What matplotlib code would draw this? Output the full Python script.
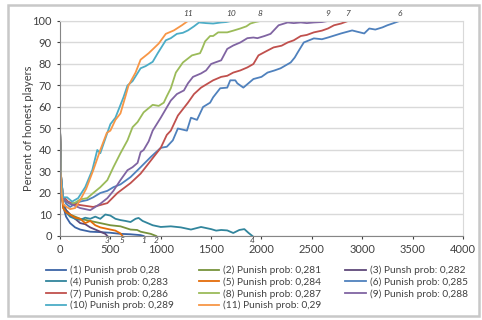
import matplotlib
matplotlib.use("Agg")
import matplotlib.pyplot as plt
from matplotlib.patches import Rectangle

plt.rcParams['font.family'] = ['Lato', 'DejaVu Sans']

# simulation runs: step number vs percent of honest players
x1 = [0, 10, 30, 60, 100, 150, 200, 300, 400, 500, 600, 700, 800, 830]
y1 = [50, 25, 14, 9, 6, 4, 3, 2, 1.8, 1.5, 1.0, 0.8, 0.4, 0]

x2 = [0, 10, 30, 60, 100, 200, 300, 400, 500, 600, 700, 766, 800, 900, 955]
y2 = [50, 25, 15, 12, 10, 8, 7, 6, 5, 4.5, 3, 2.8, 2, 1, 0]

x3 = [0, 10, 30, 60, 100, 150, 200, 250, 300, 350, 400, 450, 470]
y3 = [50, 25, 15, 12, 10, 8, 6, 5.5, 4, 3, 2, 1, 0]

x4 = [0, 10, 30, 60, 100, 150, 200, 250, 300, 350, 400, 450, 500, 550, 600, 650,
      700, 750, 780, 820, 870, 920, 1000, 1100, 1200, 1300, 1400, 1500, 1550,
      1600, 1660, 1720, 1780, 1830, 1870, 1910]
y4 = [50, 25, 14, 11, 9, 8, 7.5, 8.5, 8, 9, 8, 10, 9.5, 8, 7.4, 7,
      6.5, 8, 8.4, 7, 6, 5, 4.2, 4.5, 4, 3, 4.2, 3.2, 2.5,
      2.8, 2.6, 1.4, 2.8, 3.2, 1.5, 0]

x5 = [0, 10, 30, 60, 100, 150, 200, 250, 300, 350, 400, 450, 500, 550, 600, 620]
y5 = [50, 25, 13, 11, 10, 8.5, 8, 6, 7, 5, 4, 3.5, 3, 2.5, 1.2, 0]

x6 = [0, 10, 30, 60, 100, 150, 200, 270, 330, 400, 470, 530, 600, 700, 800, 900,
      1000, 1060, 1120, 1170, 1260, 1300, 1360, 1420, 1490, 1520, 1590, 1660,
      1690, 1740, 1760, 1820, 1870, 1920, 2000, 2060, 2130, 2190, 2290, 2330,
      2360, 2420, 2520, 2600, 2660, 2790, 2900, 2950, 3020, 3070, 3130, 3200,
      3250, 3300, 3370]
y6 = [50, 28, 18, 15, 13.5, 15, 16, 16.7, 18, 20, 21, 22.7, 24, 27.4, 32, 36.7,
      41, 41.5, 44.5, 50, 49, 55, 54, 60, 62, 64.5, 68.7, 69,
      72.4, 72.4, 71, 69, 71, 73, 74, 76, 77, 78, 80.7, 83,
      85.4, 90, 91.9, 91.5, 92.3, 94.2, 95.6, 95, 94.2, 96.5, 96, 97,
      98, 98.8, 100]

x7 = [0, 10, 30, 50, 80, 130, 200, 330, 470, 570, 700, 800, 900, 1000, 1060,
      1100, 1170, 1270, 1330, 1400, 1520, 1600, 1660, 1720, 1790, 1860, 1920,
      1970, 2050, 2120, 2200, 2260, 2320, 2390, 2450, 2520, 2600, 2660, 2720,
      2790, 2860]
y7 = [50, 28, 18, 17.5, 16, 15, 14.4, 13.5, 15.3, 20, 24.6, 29, 35, 41, 47,
      49, 56, 62, 66, 69, 72.4, 74, 74.5, 76, 77, 78.4, 80,
      84, 86, 87.7, 88.5, 90, 91, 93, 93.5, 94.7, 95.5, 96.5, 98,
      98.8, 100]

x8 = [0, 10, 30, 60, 100, 150, 200, 270, 330, 400, 470, 530, 600, 670, 720, 770,
      830, 920, 980, 1030, 1060, 1100, 1150, 1220, 1310, 1390, 1410, 1440, 1490,
      1520, 1570, 1660, 1720, 1790, 1850, 1890, 1940, 1990]
y8 = [50, 28, 18, 16, 15, 15.5, 17, 17.6, 20, 22.7, 26, 32, 38.5, 44.5, 50.6, 53,
      57.5, 61, 60.5, 62, 65, 68.7, 76, 80.7, 84, 85, 87, 90.5, 93,
      93, 94.7, 94.7, 95.5, 96.5, 97.5, 98.8, 99.5, 100]

x9 = [0, 10, 30, 60, 100, 200, 300, 400, 470, 530, 600, 670, 720, 770, 800, 830,
      880, 920, 1000, 1050, 1100, 1160, 1230, 1270, 1320, 1400, 1450, 1500, 1540,
      1600, 1660, 1720, 1790, 1860, 1920, 1960, 2030, 2090, 2130, 2170, 2260,
      2320, 2390, 2450, 2520, 2600, 2660]
y9 = [50, 28, 18, 16, 15, 13, 12, 15, 17.6, 21, 26, 30.6, 32, 34, 39, 40,
      44, 49, 55, 59, 63, 66, 67.7, 71, 74, 75.6, 77, 80, 80.7,
      81.7, 87, 88.6, 90, 92, 92.3, 92, 93, 94, 96, 98, 99.3,
      99, 99.3, 99, 99.3, 99.5, 100]

x10 = [0, 10, 30, 70, 120, 180, 250, 320, 370, 400, 470, 500, 550, 630, 670, 720,
       800, 850, 920, 970, 1050, 1100, 1160, 1220, 1270, 1330, 1380, 1450, 1520,
       1600, 1650, 1700]
y10 = [50, 28, 18, 18, 16, 17.6, 22.7, 30.6, 40, 38.5, 48, 52, 55, 64.5, 70, 72,
       78, 79, 81, 85, 91, 92, 94, 94.5, 95.6, 97.5, 99.3, 99, 98.8,
       99.3, 99.5, 100]

x11 = [0, 5, 15, 30, 50, 100, 150, 200, 260, 330, 400, 465, 500, 550, 600, 650,
       680, 750, 800, 880, 980, 1050, 1130, 1210, 1270]
y11 = [51, 30, 20, 15, 14, 12.5, 13, 16.7, 22, 30.6, 40, 48, 49, 54, 57, 65,
       70, 76, 82, 85, 89.5, 94, 95.6, 98, 100]

labels = ['(1) Punish prob 0,28', '(2) Punish prob: 0,281', '(3) Punsh prob: 0,282',
          '(4) Punish prob: 0,283', '(5) Punish prob: 0,284', '(6) Punish prob: 0,285',
          '(7) Punish prob: 0,286', '(8) Punish prob: 0,287', '(9) Punish prob: 0,288',
          '(10) Punish prob: 0,289', '(11) Punish prob: 0,29']
colors = ['#3C64A6', '#77933C', '#5F497A', '#31859C', '#E46C0A', '#4F81BD',
          '#C0504D', '#9BBB59', '#8064A2', '#4BACC6', '#F79646']

xs = [x1, x2, x3, x4, x5, x6, x7, x8, x9, x10, x11]
ys = [y1, y2, y3, y4, y5, y6, y7, y8, y9, y10, y11]

fig = plt.figure(figsize=(4.82, 3.20), dpi=100)
ax = fig.add_axes([0.1245, 0.2625, 0.836, 0.672])

handles = []
for i in range(11):
    h, = ax.plot(xs[i], ys[i], color=colors[i], lw=1.3, label=labels[i])
    handles.append(h)
    # run number written where the run ends
    end_x, end_y = xs[i][-1], ys[i][-1]
    dy = 3 if end_y >= 100 else -1
    ax.annotate(str(i + 1), (end_x, end_y), xytext=(0, dy), textcoords='offset points',
                ha='center', va='bottom' if dy > 0 else 'top', fontsize=6,
                style='italic', color='#404040', annotation_clip=False)

ax.set_xlim(0, 4000)
ax.set_ylim(0, 100)
ax.set_xticks(range(0, 4001, 500))
ax.set_yticks(range(0, 101, 10))
ax.grid(axis='y', color='#D9D9D9', lw=1)
ax.set_axisbelow(True)
ax.tick_params(axis='both', labelsize=8, colors='#404040', length=2.5, width=0.8)
ax.tick_params(axis='x', pad=3)
for s in ['left', 'bottom']:
    ax.spines[s].set_color('#868686')
for s in ['right', 'top']:
    ax.spines[s].set_color('#D9D9D9')
ax.set_ylabel('Percent of honest players', fontsize=8, color='#404040', labelpad=-1)

order = [0, 3, 6, 9, 1, 4, 7, 10, 2, 5, 8]
fig.legend([handles[k] for k in order], [labels[k] for k in order], ncol=3,
           loc='upper left', bbox_to_anchor=(0.085, 0.185), frameon=False,
           fontsize=7.3, handlelength=2.0, handletextpad=0.4, columnspacing=2.4,
           labelspacing=0.2, borderpad=0, labelcolor='#404040')

fig.patches.append(Rectangle((8 / 482, 4 / 320), 471 / 482, 311 / 320,
                             transform=fig.transFigure, fill=False,
                             edgecolor='#C8C8C8', lw=1.8))

fig.savefig('out.png', dpi=100)
